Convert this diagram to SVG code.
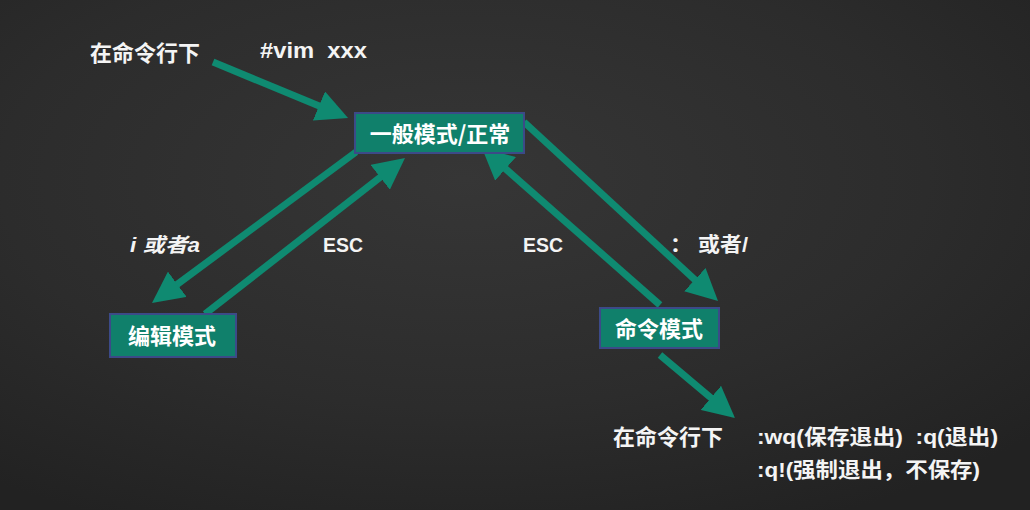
<svg xmlns="http://www.w3.org/2000/svg" width="1030" height="510" viewBox="0 0 1030 510">
  <defs>
    <radialGradient id="bg" cx="45%" cy="35%" r="75%">
      <stop offset="0" stop-color="#363636"/>
      <stop offset="0.6" stop-color="#2c2c2c"/>
      <stop offset="1" stop-color="#222222"/>
    </radialGradient>
    <marker id="head" viewBox="0 0 10 10" refX="3" refY="5" markerWidth="4.5" markerHeight="4.5" markerUnits="strokeWidth" orient="auto">
      <path d="M0,0 L10,5 L0,10 Z" fill="#0f8a71"/>
    </marker>
    <style>
      .lbl { font-family: "Liberation Sans", "Noto Sans CJK SC", sans-serif; font-weight: bold; fill: #f4f4f4; }
      .cjk { font-family: "Noto Sans CJK SC", sans-serif; }
      .box { fill: #10806b; stroke: #3c4a88; stroke-width: 2; }
      .ntxt { font-family: "Noto Sans CJK SC", sans-serif; font-weight: bold; font-size: 22px; fill: #ffffff; text-anchor: middle; }
      .conn { stroke: #0f8a71; stroke-width: 7; fill: none; marker-end: url(#head); }
    </style>
  </defs>
  <rect x="0" y="0" width="1030" height="510" fill="url(#bg)"/>

  <g id="connectors">
    <line class="conn" x1="213" y1="62" x2="327.7" y2="109.6"/>
    <line class="conn" x1="356" y1="152" x2="169.7" y2="289.9"/>
    <line class="conn" x1="205" y1="314" x2="387.6" y2="171.5"/>
    <line class="conn" x1="660" y1="305" x2="498.5" y2="162.6"/>
    <line class="conn" x1="524" y1="122" x2="701.8" y2="286.1"/>
    <line class="conn" x1="660" y1="355" x2="718.1" y2="403.9"/>
  </g>

  <g id="node-normal">
    <rect class="box" x="355" y="113" width="169" height="40"/>
    <text class="ntxt" x="440" y="142">一般模式/正常</text>
  </g>
  <g id="node-edit">
    <rect class="box" x="110" y="314" width="126" height="43"/>
    <text class="ntxt" x="172" y="344">编辑模式</text>
  </g>
  <g id="node-command">
    <rect class="box" x="600" y="308" width="119" height="40"/>
    <text class="ntxt" x="659" y="337">命令模式</text>
  </g>

  <g id="labels">
    <text class="lbl cjk" x="90" y="61" font-size="22">在命令行下</text>
    <text class="lbl" x="260" y="58" font-size="22" xml:space="preserve" textLength="107" lengthAdjust="spacingAndGlyphs">#vim  xxx</text>
    <text class="lbl" x="130" y="252" font-size="20" font-style="italic" textLength="70" lengthAdjust="spacingAndGlyphs">i 或者a</text>
    <text class="lbl" x="323" y="252" font-size="20" textLength="40" lengthAdjust="spacingAndGlyphs">ESC</text>
    <text class="lbl" x="523" y="252" font-size="20" textLength="40" lengthAdjust="spacingAndGlyphs">ESC</text>
    <text class="lbl" x="670" y="252" font-size="20" textLength="78" lengthAdjust="spacingAndGlyphs">： 或者/</text>
    <text class="lbl cjk" x="613" y="445" font-size="22">在命令行下</text>
    <text class="lbl" x="757" y="444" font-size="21" xml:space="preserve" textLength="241" lengthAdjust="spacingAndGlyphs">:wq(保存退出)  :q(退出)</text>
    <text class="lbl" x="757" y="477" font-size="21" textLength="223" lengthAdjust="spacingAndGlyphs">:q!(强制退出，不保存)</text>
  </g>
</svg>
